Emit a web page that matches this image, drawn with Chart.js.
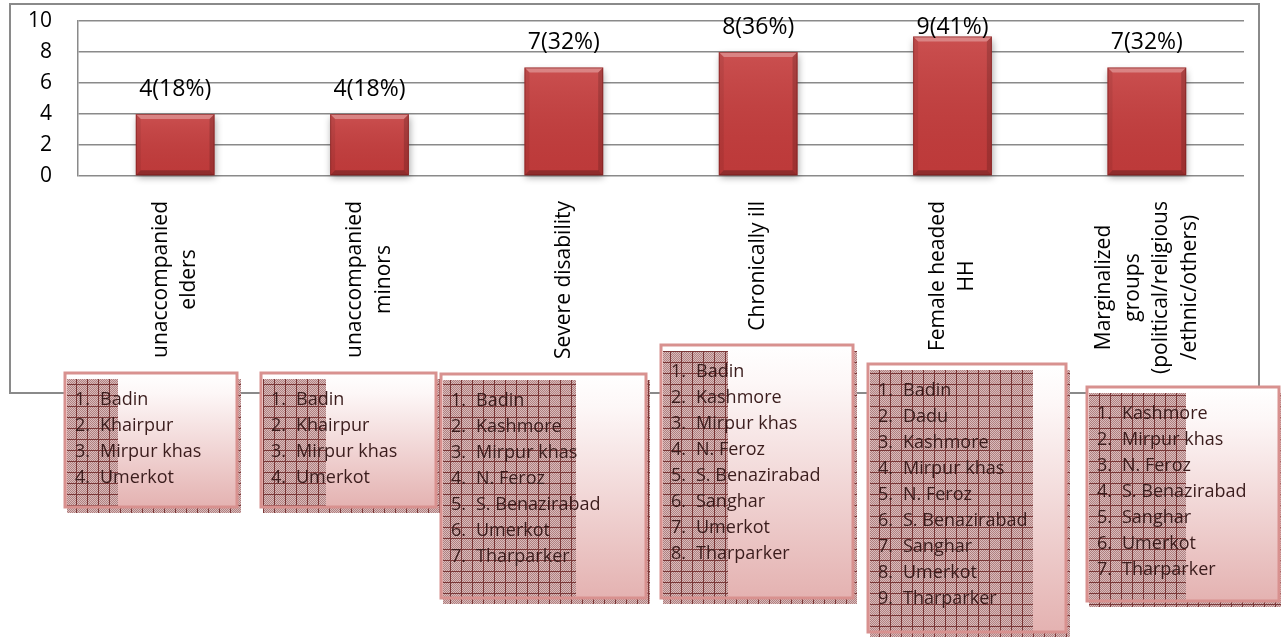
<!DOCTYPE html>
<html>
<head>
<meta charset="utf-8">
<script src="https://cdn.jsdelivr.net/npm/chart.js@4.4.1/dist/chart.umd.min.js"></script>
<style>
  html, body { margin: 0; padding: 0; background: #ffffff; }
  canvas { display: block; }
</style>
</head>
<body>
<canvas id="c" width="1281" height="637"></canvas>
<script>
// ---- data ----
const categories = [
  ['unaccompanied', 'elders'],
  ['unaccompanied', 'minors'],
  ['Severe disability'],
  ['Chronically ill'],
  ['Female headed', 'HH'],
  ['Marginalized', 'groups', '(political/religious', '/ethnic/others)']
];
const counts = [4, 4, 7, 8, 9, 7];
const shares = [18, 18, 32, 36, 41, 32];
const yTickValues = [0, 2, 4, 6, 8, 10];

const districtsElders = ['Badin', 'Khairpur', 'Mirpur khas', 'Umerkot'];
const districtsMinors = ['Badin', 'Khairpur', 'Mirpur khas', 'Umerkot'];
const districtsDisability = ['Badin', 'Kashmore', 'Mirpur khas', 'N. Feroz', 'S. Benazirabad', 'Umerkot', 'Tharparker'];
const districtsChronic = ['Badin', 'Kashmore', 'Mirpur khas', 'N. Feroz', 'S. Benazirabad', 'Sanghar', 'Umerkot', 'Tharparker'];
const districtsFemaleHH = ['Badin', 'Dadu', 'Kashmore', 'Mirpur khas', 'N. Feroz', 'S. Benazirabad', 'Sanghar', 'Umerkot', 'Tharparker'];
const districtsMarginal = ['Kashmore', 'Mirpur khas', 'N. Feroz', 'S. Benazirabad', 'Sanghar', 'Umerkot', 'Tharparker'];
const districtLists = [districtsElders, districtsMinors, districtsDisability, districtsChronic, districtsFemaleHH, districtsMarginal];

// ---- layout of the district call-out boxes: [left, top, right, bottom, hatchRight] ----
const boxRects = [
  [65, 373, 237, 507, 118],
  [261, 373, 436, 507, 326],
  [441, 374, 646, 598, 576],
  [661, 345, 853, 598, 728],
  [868, 364, 1066, 632, 1033],
  [1087, 387, 1279, 601, 1186]
];

const FONT = '"Open Sans", "Noto Sans", sans-serif';

// hatched fill: fine checker with a dark red grid
function makeHatch(ctx) {
  const p = document.createElement('canvas');
  p.width = 11; p.height = 11;
  const g = p.getContext('2d');
  for (let y = 0; y < 11; y++) {
    for (let x = 0; x < 11; x++) {
      g.fillStyle = ((x + y) % 2) ? '#d9bcbc' : '#b08080';
      g.fillRect(x, y, 1, 1);
    }
  }
  g.fillStyle = '#7a3838';
  g.fillRect(10, 0, 1, 11);
  g.fillRect(0, 10, 11, 1);
  return ctx.createPattern(p, 'repeat');
}

const frame = {
  id: 'frame',
  beforeDraw(chart) {
    const ctx = chart.ctx;
    ctx.save();
    ctx.fillStyle = '#ffffff';
    ctx.fillRect(0, 0, chart.width, chart.height);
    ctx.strokeStyle = '#8a8a8a';
    ctx.lineWidth = 2;
    ctx.strokeRect(10, 4, 1249, 389);
    ctx.restore();
  }
};

const barShadow = {
  id: 'barShadow',
  beforeDatasetDraw(chart) {
    const ctx = chart.ctx;
    ctx.save();
    ctx.shadowColor = 'rgba(0,0,0,0.35)';
    ctx.shadowBlur = 7;
    ctx.shadowOffsetX = 1;
    ctx.shadowOffsetY = 3;
  },
  afterDatasetDraw(chart) {
    chart.ctx.restore();
  }
};

const bevel = {
  id: 'bevel',
  afterDatasetsDraw(chart) {
    const ctx = chart.ctx;
    const meta = chart.getDatasetMeta(0);
    ctx.save();
    meta.data.forEach((el, i) => {
      const L = el.x - el.width / 2, R = el.x + el.width / 2, T = el.y, B = el.base;
      const b = 5;
      const poly = (pts, fill) => {
        ctx.beginPath();
        ctx.moveTo(pts[0][0], pts[0][1]);
        for (let k = 1; k < pts.length; k++) ctx.lineTo(pts[k][0], pts[k][1]);
        ctx.closePath();
        ctx.fillStyle = fill;
        ctx.fill();
      };
      // face shading
      const g = ctx.createLinearGradient(0, T, 0, B);
      g.addColorStop(0, 'rgba(255,255,255,0.10)');
      g.addColorStop(1, 'rgba(0,0,0,0.04)');
      ctx.fillStyle = g;
      ctx.fillRect(L, T, R - L, B - T);
      poly([[L, T], [R, T], [R - b, T + b], [L + b, T + b]], 'rgba(255,255,255,0.30)');
      poly([[L, T], [L + b, T + b], [L + b, B - b], [L, B]], 'rgba(0,0,0,0.07)');
      poly([[R, T], [R, B], [R - b, B - b], [R - b, T + b]], 'rgba(0,0,0,0.16)');
      poly([[L, B], [L + b, B - b], [R - b, B - b], [R, B]], 'rgba(0,0,0,0.24)');
      ctx.strokeStyle = 'rgba(120,25,25,0.55)';
      ctx.lineWidth = 1;
      ctx.strokeRect(L + 0.5, T + 0.5, R - L - 1, B - T - 1);

      // value label
      const label = counts[i] + '(' + shares[i] + '%)';
      ctx.fillStyle = '#000000';
      ctx.font = '23px ' + FONT;
      ctx.textAlign = 'center';
      ctx.textBaseline = 'middle';
      ctx.fillText(label, el.x, Math.max(T - 25, 27));
    });
    ctx.restore();
  }
};

const categoryLabels = {
  id: 'categoryLabels',
  afterDraw(chart) {
    const ctx = chart.ctx;
    const xs = chart.scales.x;
    ctx.save();
    ctx.font = '21px ' + FONT;
    ctx.fillStyle = '#000000';
    ctx.textAlign = 'center';
    ctx.textBaseline = 'middle';
    categories.forEach((lines, i) => {
      const cx = xs.getPixelForValue(i);
      const w = Math.max(...lines.map(s => ctx.measureText(s).width));
      const cy = 201 + w / 2;
      const n = lines.length;
      lines.forEach((s, j) => {
        const lx = cx + (j - (n - 1) / 2) * 28.5;
        ctx.save();
        ctx.translate(lx, cy);
        ctx.rotate(-Math.PI / 2);
        ctx.fillText(s, 0, 0);
        ctx.restore();
      });
    });
    ctx.restore();
  }
};

const districtBoxes = {
  id: 'districtBoxes',
  afterDraw(chart) {
    const ctx = chart.ctx;
    const hatch = makeHatch(ctx);
    ctx.save();
    boxRects.forEach((r, i) => {
      const [L, T, R, B, H] = r;
      // offset hatched shadow
      ctx.fillStyle = hatch;
      ctx.fillRect(L + 2, T + 6, R - L + 2, B - T);
      // gradient body
      const g = ctx.createLinearGradient(0, T, 0, B);
      g.addColorStop(0, '#ffffff');
      g.addColorStop(0.15, '#fdf7f7');
      g.addColorStop(1, '#e4b2b1');
      ctx.fillStyle = g;
      ctx.fillRect(L, T, R - L, B - T);
      // hatched band on the left
      ctx.fillStyle = hatch;
      ctx.fillRect(L + 2, T + 6, H - L - 2, B - T - 6);
      // border
      ctx.strokeStyle = '#d8918f';
      ctx.lineWidth = 3;
      ctx.strokeRect(L, T, R - L, B - T);
      // numbered list
      ctx.fillStyle = '#3a1c1c';
      ctx.font = '18px ' + FONT;
      ctx.textAlign = 'left';
      ctx.textBaseline = 'middle';
      districtLists[i].forEach((name, k) => {
        const y = T + 26.5 + k * 26;
        ctx.fillText((k + 1) + '.', L + 10, y);
        ctx.fillText(name, L + 35, y);
      });
    });
    ctx.restore();
  }
};

const ctx = document.getElementById('c').getContext('2d');
new Chart(ctx, {
  type: 'bar',
  data: {
    labels: categories,
    datasets: [{
      data: counts,
      backgroundColor: '#c53c3c',
      borderWidth: 0,
      barPercentage: 0.405,
      categoryPercentage: 1,
      clip: false
    }]
  },
  options: {
    responsive: false,
    animation: false,
    devicePixelRatio: 1,
    layout: { padding: { left: 10, top: 21, right: 37, bottom: 461 } },
    plugins: { legend: { display: false }, tooltip: { enabled: false } },
    scales: {
      x: {
        display: false
      },
      y: {
        min: 0,
        max: 10,
        afterBuildTicks(s) { s.ticks = yTickValues.map(v => ({ value: v })); },
        ticks: { color: '#000000', font: { family: FONT, size: 21 }, padding: 26, autoSkip: false },
        grid: { color: '#8a8a8a', lineWidth: 1.5, drawTicks: false },
        border: { display: true, color: '#8a8a8a', width: 1.5 },
        afterFit(s) { s.width = 68; s.paddingTop = 0; s.paddingBottom = 0; }
      }
    }
  },
  plugins: [frame, barShadow, bevel, categoryLabels, districtBoxes]
});
</script>
</body>
</html>
